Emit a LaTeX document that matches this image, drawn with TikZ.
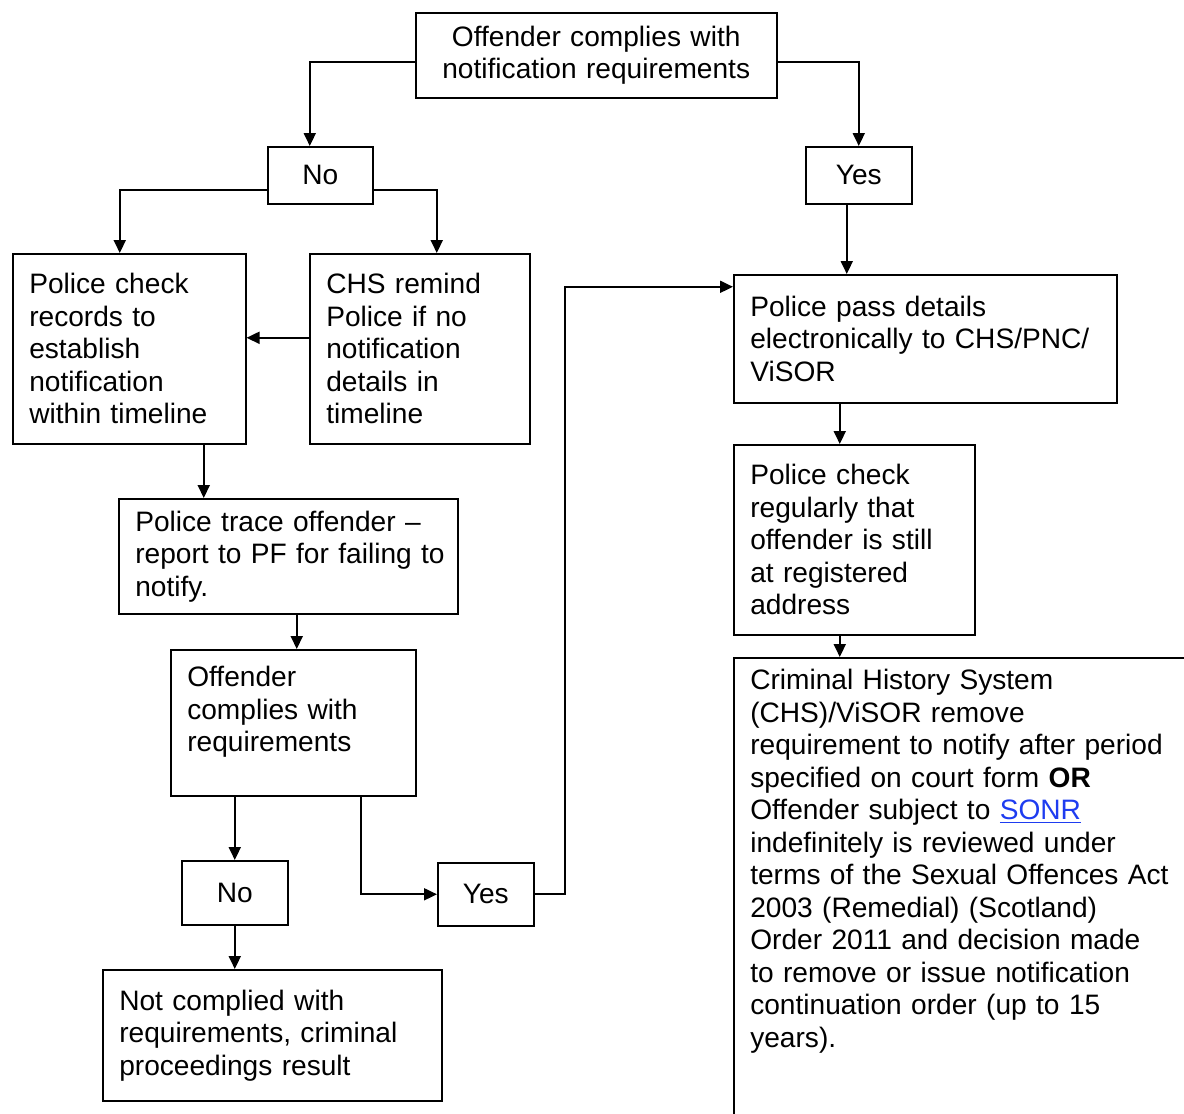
\documentclass[tikz,border=0pt]{standalone}
\usepackage{fontspec}
\setmainfont{Liberation Sans}
\usepackage{tikz}
\usetikzlibrary{arrows.meta}
\definecolor{linkblue}{RGB}{30,60,240}

\begin{document}
\begin{tikzpicture}[x=0.02cm, y=-0.02cm,
        box/.style={draw, line width=0.9pt, anchor=north west, align=left, inner xsep=0.33cm, inner ysep=0.23cm, font=\fontsize{16}{18.5}\selectfont}, % text boxes
        answer/.style={draw, line width=0.9pt, anchor=north west, inner sep=0pt, font=\fontsize{16}{18.5}\selectfont}, % yes / no boxes
        line/.style={draw, line width=1.1pt, -{Triangle[length=0.26cm, width=0.24cm]}} % connectors
        ]

    \useasboundingbox (0,0) rectangle (1184,1113);
    \clip (0,0) rectangle (1184,1113);

    % first question
    \node[box, align=center, text width=6.56cm, minimum height=1.7cm] (start) at (415,12) {Offender complies with\\notification requirements};
    \node[answer, minimum width=2.1cm, minimum height=1.14cm] (noA) at (267,146) {No};
    \node[answer, minimum width=2.12cm, minimum height=1.14cm] (yesA) at (805,146) {Yes};

    % no branch
    \node[box, text width=4.0cm, minimum height=3.8cm] (check) at (12,253) {Police check\\records to\\establish\\notification\\within timeline};
    \node[box, text width=3.74cm, minimum height=3.8cm] (remind) at (309,253) {CHS remind\\Police if no\\notification\\details in\\timeline};
    \node[box, text width=6.12cm, minimum height=2.3cm] (trace) at (118,498) {Police trace offender --\\\mbox{report to PF for failing to}\\notify.};
    \node[box, text width=4.24cm, minimum height=2.92cm, text depth=1.85cm] (comply) at (170,649) {Offender\\complies with\\requirements};
    \node[answer, minimum width=2.12cm, minimum height=1.28cm] (noB) at (181,860) {No};
    \node[answer, minimum width=1.92cm, minimum height=1.26cm] (yesB) at (437,862) {Yes};
    \node[box, text width=6.12cm, minimum height=2.62cm] (result) at (102,969) {Not complied with\\requirements, criminal\\proceedings result};

    % yes branch
    \node[box, text width=7.0cm, minimum height=2.56cm] (pass) at (733,274) {Police pass details\\electronically to CHS/PNC/\\ViSOR};
    \node[box, text width=4.16cm, minimum height=3.8cm] (regular) at (733,444) {Police check\\regularly that\\offender is still\\at registered\\address};
    \node[box, text width=9cm, text depth=10cm] (chs) at (733,657) {Criminal History System\\(CHS)/ViSOR remove\\requirement to notify after period\\specified on court form \textbf{OR}\\Offender subject to \textcolor{linkblue}{\underline{SONR}}\\indefinitely is reviewed under\\terms of the Sexual Offences Act\\2003 (Remedial) (Scotland)\\Order 2011 and decision made\\to remove or issue notification\\continuation order (up to 15\\years).};

    % connectors
    \draw[line] ([yshift=-0.13cm]start.west) -| ([xshift=-0.21cm]noA.north);
    \draw[line] ([yshift=-0.13cm]start.east) -| (yesA.north);
    \draw[line] ([yshift=-0.29cm]noA.west) -| ([xshift=-0.19cm]check.north);
    \draw[line] ([yshift=-0.29cm]noA.east) -| ([xshift=0.34cm]remind.north);
    \draw[line] ([yshift=0.22cm]remind.west) -- ([yshift=0.22cm]remind.west -| check.east);
    \draw[line] ([xshift=1.49cm]check.south) -- ([xshift=1.49cm]check.south |- trace.north);
    \draw[line] ([xshift=0.17cm]trace.south) -- ([xshift=0.17cm]trace.south |- comply.north);
    \draw[line] (comply.south -| noB.north) -- (noB.north);
    \draw[line] ([xshift=1.35cm]comply.south) |- (yesB.west);
    \draw[line] (noB.south) -- (noB.south |- result.north);
    \draw[line] (yesB.east) -- ++(30,0) |- ([yshift=1.04cm]pass.west);
    \draw[line] ([xshift=-0.24cm]yesA.south) -- ([xshift=-0.24cm]yesA.south |- pass.north);
    \draw[line] ([xshift=-1.71cm]pass.south) -- ([xshift=-1.71cm]pass.south |- regular.north);
    \draw[line] ([xshift=-0.29cm]regular.south) -- ([xshift=-0.29cm]regular.south |- chs.north);

\end{tikzpicture}
\end{document}
